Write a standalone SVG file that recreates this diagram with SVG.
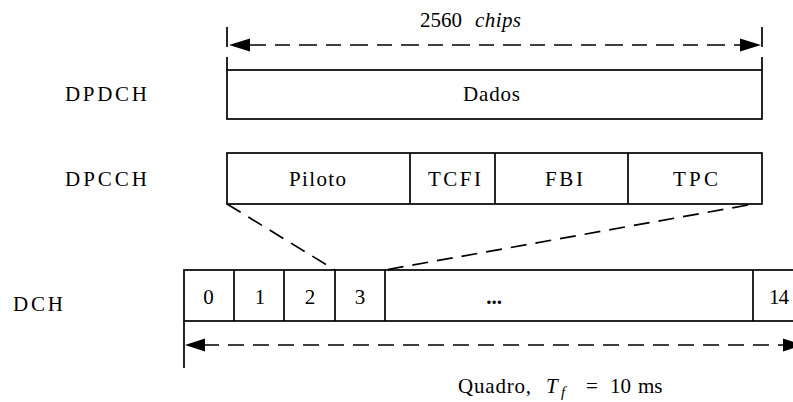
<svg xmlns="http://www.w3.org/2000/svg" width="793" height="402" viewBox="0 0 793 402">
<style>
  .box { fill: #fff; stroke: #000; stroke-width: 1.7; }
  .ln { stroke: #000; stroke-width: 1.7; fill: none; }
  .dash { stroke: #000; stroke-width: 1.7; fill: none; stroke-dasharray: 16 9; }
  .ah { fill: #000; stroke: none; }
  .c { text-anchor: middle; }
  .it { font-style: italic; }
</style>
<rect width="793" height="402" fill="#fff"/>
<g font-family="Liberation Serif, DejaVu Serif, serif" font-size="21" fill="#000">

<g id="label-dpdch"><text x="65" y="101" textLength="82" lengthAdjust="spacing">DPDCH</text></g>
<g id="label-dpcch"><text x="65" y="186" textLength="82" lengthAdjust="spacing">DPCCH</text></g>
<g id="label-dch"><text x="13" y="311" textLength="50" lengthAdjust="spacing">DCH</text></g>

<g id="dpdch">
  <rect class="box" x="227" y="70" width="535" height="49"/>
  <text x="463" y="101" textLength="57" lengthAdjust="spacing">Dados</text>
</g>

<g id="dpcch">
  <rect class="box" x="227" y="153" width="535" height="51"/>
  <line class="ln" x1="410" y1="153" x2="410" y2="204"/>
  <line class="ln" x1="495" y1="153" x2="495" y2="204"/>
  <line class="ln" x1="628" y1="153" x2="628" y2="204"/>
  <text x="289" y="186" textLength="57" lengthAdjust="spacing">Piloto</text>
  <text x="428" y="186" textLength="53" lengthAdjust="spacing">TCFI</text>
  <text x="545" y="186" textLength="38" lengthAdjust="spacing">FBI</text>
  <text x="673" y="186" textLength="45" lengthAdjust="spacing">TPC</text>
</g>

<g id="dch">
  <rect class="box" x="184" y="270" width="625" height="51"/>
  <line class="ln" x1="234" y1="270" x2="234" y2="321"/>
  <line class="ln" x1="284" y1="270" x2="284" y2="321"/>
  <line class="ln" x1="335" y1="270" x2="335" y2="321"/>
  <line class="ln" x1="385" y1="270" x2="385" y2="321"/>
  <line class="ln" x1="753" y1="270" x2="753" y2="321"/>
  <text class="c" x="208.5" y="304">0</text>
  <text class="c" x="260" y="304">1</text>
  <text class="c" x="310" y="304">2</text>
  <text class="c" x="360" y="304">3</text>
  <text class="c" x="494" y="304" font-weight="bold">...</text>
  <text x="769" y="304" textLength="20" lengthAdjust="spacing">14</text>
</g>

<g id="connectors">
  <line class="ln" x1="227" y1="27" x2="227" y2="47"/>
  <line class="ln" x1="227" y1="57" x2="227" y2="70"/>
  <line class="ln" x1="762" y1="27" x2="762" y2="47"/>
  <line class="ln" x1="762" y1="57" x2="762" y2="70"/>
  <line class="dash" x1="248" y1="45" x2="742" y2="45" style="stroke-dasharray: 18 9 15 9"/>
  <polygon class="ah" points="229,45 250,38.5 250,51.5"/>
  <polygon class="ah" points="761,45 740,38.5 740,51.5"/>
  <line class="dash" x1="227" y1="204" x2="335" y2="270"/>
  <line class="dash" x1="748" y1="205" x2="385" y2="270"/>
  <line class="ln" x1="184" y1="321" x2="184" y2="368"/>
  <line class="dash" x1="203" y1="345" x2="785" y2="345"/>
  <polygon class="ah" points="185,345 205,338.5 205,351.5"/>
  <polygon class="ah" points="803,345 783,338.5 783,351.5"/>
</g>

<g id="dim-labels">
  <text x="420" y="27" textLength="42" lengthAdjust="spacing">2560</text>
  <text class="it" x="475" y="27" textLength="46" lengthAdjust="spacing">chips</text>
  <text x="458" y="393" textLength="73" lengthAdjust="spacing">Quadro,</text>
  <text class="it" x="546" y="393">T</text>
  <text class="it" x="561" y="397" font-size="15">f</text>
  <text x="586" y="393">=</text>
  <text x="610" y="393">10</text>
  <text x="638" y="393">ms</text>
</g>
</g>
</svg>
